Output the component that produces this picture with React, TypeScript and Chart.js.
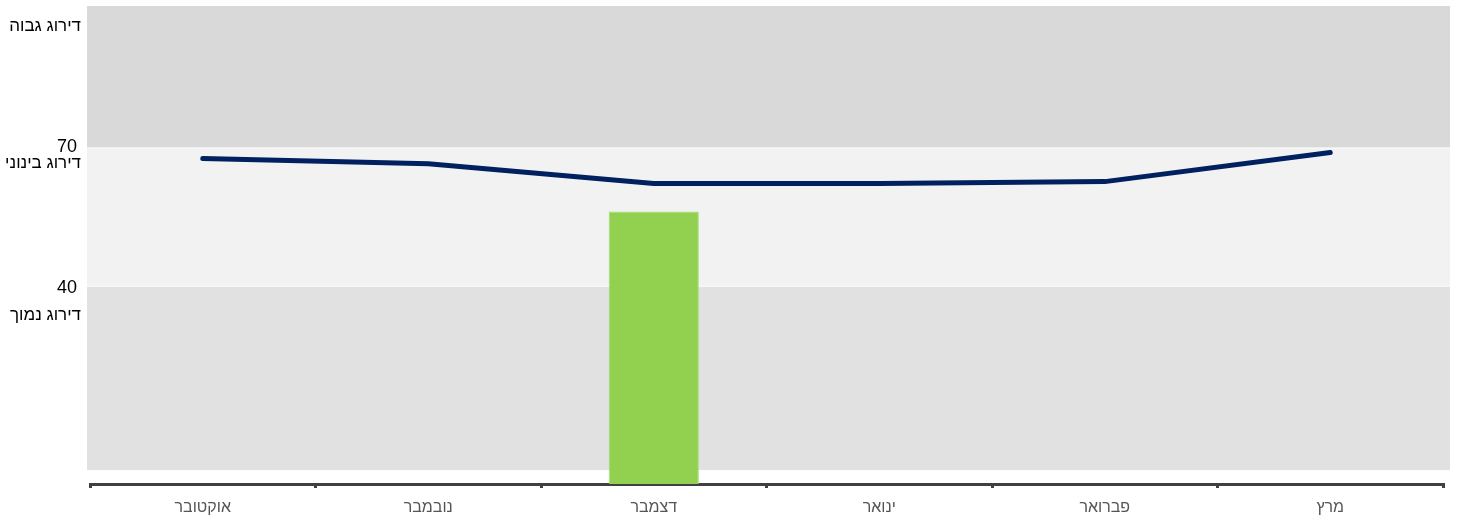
import React, { useEffect, useRef } from "react";
import { Chart, registerables } from "chart.js";
Chart.register(...registerables);

const months = ["אוקטובר", "נובמבר", "דצמבר", "ינואר", "פברואר", "מרץ"];
const scoreValues = [67.8, 66.7, 62.4, 62.4, 62.8, 69.1];
const barValues = [null, null, 56.3, null, null, null];
const yTickValues = [40, 70];
const bandEdges = [0, 40, 70, 100.9];
const bandColors = ["#e1e1e1", "#f2f2f2", "#d9d9d9"];
const bandLabels = ["דירוג נמוך", "דירוג בינוני", "דירוג גבוה"];
const bandLabelValues = [33.7, 66.7, 96.5];
const yMin = -2.8;
const yMax = 100.9;

const FONT = "'Liberation Sans', Arial, sans-serif";

const bandsPlugin = {
  id: "bands",
  beforeDatasetsDraw(chart: any) {
    const { ctx, chartArea, scales } = chart;
    const y = scales.y;
    ctx.save();
    for (let i = 0; i < bandColors.length; i++) {
      const top = y.getPixelForValue(bandEdges[i + 1]);
      const bottom = y.getPixelForValue(bandEdges[i]);
      ctx.fillStyle = bandColors[i];
      const left = chartArea.left - 3;
      const right = chartArea.right + 7;
      ctx.fillRect(left, top, right - left, bottom - top - 1);
    }
    ctx.restore();
  },
  afterDraw(chart: any) {
    const { ctx, scales } = chart;
    const y = scales.y;
    ctx.save();
    ctx.fillStyle = "#000";
    ctx.textAlign = "right";
    ctx.textBaseline = "middle";
    ctx.font = `17px ${FONT}`;
    for (let i = 0; i < bandLabels.length; i++) {
      ctx.fillText(bandLabels[i], 81, y.getPixelForValue(bandLabelValues[i]));
    }
    ctx.font = `18px ${FONT}`;
    for (const v of yTickValues) {
      ctx.fillText(String(v), 77, y.getPixelForValue(v) + (v > 50 ? -1 : 1));
    }
    ctx.restore();
  },
};

export default function App() {
  const ref = useRef<HTMLCanvasElement | null>(null);
  useEffect(() => {
    document.body.style.margin = "0";
    if (!ref.current) return;
    const chart = new Chart(ref.current, {
      data: {
        labels: months,
        datasets: [
          {
            type: "line",
            data: scoreValues,
            borderColor: "#002060",
            borderWidth: 5,
            borderCapStyle: "round",
            borderJoinStyle: "round",
            pointRadius: 0,
            tension: 0,
            order: 1,
          },
          {
            type: "bar",
            data: barValues as any,
            backgroundColor: "#92d050",
            borderColor: "#a8dc74",
            borderWidth: 1,
            base: yMin,
            barPercentage: 0.4,
            categoryPercentage: 1,
            order: 2,
          } as any,
        ],
      },
      options: {
        animation: false,
        responsive: true,
        maintainAspectRatio: false,
        layout: { padding: { top: 6, right: 14, left: 90, bottom: 0 } },
        plugins: { legend: { display: false }, tooltip: { enabled: false } },
        scales: {
          x: {
            type: "category",
            offset: true,
            grid: {
              offset: true,
              drawOnChartArea: false,
              drawTicks: true,
              tickLength: 4,
              color: "#404040",
              lineWidth: 3,
            },
            border: { display: true, color: "#404040", width: 3 },
            ticks: {
              color: "#555555",
              font: { family: FONT, size: 16 },
              padding: 10,
              maxRotation: 0,
            },
            afterFit(scale: any) {
              scale.height = 34;
            },
          },
          y: {
            display: false,
            min: yMin,
            max: yMax,
          },
        },
      },
      plugins: [bandsPlugin],
    } as any);
    return () => chart.destroy();
  }, []);
  return (
    <div style={{ width: 1457, height: 518, position: "relative" }}>
      <canvas ref={ref} />
    </div>
  );
}
